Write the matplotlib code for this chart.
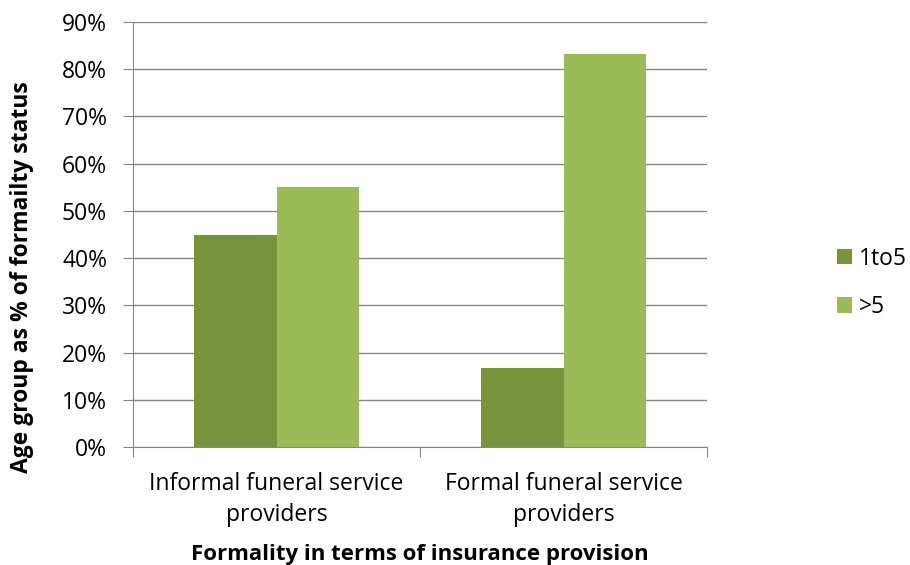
import numpy as np
import matplotlib.pyplot as plt
from matplotlib.ticker import PercentFormatter

plt.rcParams['font.family'] = ['Open Sans', 'DejaVu Sans']

categories = ['Informal funeral service\nproviders', 'Formal funeral service\nproviders']
series_names = ['1to5', '>5']
vals_1to5 = [45.0, 16.7]
vals_gt5 = [55.0, 83.3]
colors = ['#77933C', '#9BBB59']

fig = plt.figure(figsize=(9.1, 5.65), dpi=100)
ax = fig.add_axes([133/910, 1-447/565, (707-133)/910, (447-22)/565])

x = np.arange(len(categories))
w = 0.289
ax.bar(x - w/2, vals_1to5, w, color=colors[0], label=series_names[0], zorder=3)
ax.bar(x + w/2, vals_gt5, w, color=colors[1], label=series_names[1], zorder=3)

ax.set_xlim(-0.5, len(categories) - 0.5)
ax.set_ylim(0, 90)
ax.set_yticks(np.arange(0, 91, 10))
ax.yaxis.set_major_formatter(PercentFormatter(decimals=0))
ax.grid(axis='y', color='#868686', lw=1, zorder=0)

# category boundaries as ticks, labels on minor ticks
ax.set_xticks(np.arange(-0.5, len(categories), 1.0))
ax.set_xticklabels([])
ax.set_xticks(x, minor=True)
ax.set_xticklabels(categories, minor=True, fontsize=16.5, linespacing=1.4)
ax.tick_params(axis='x', which='minor', length=0, pad=18)
ax.tick_params(axis='x', which='major', length=7.2, color='#868686')
ax.tick_params(axis='y', length=7.2, color='#868686', labelsize=16.5, pad=11.5)

for s in ['top', 'right']:
    ax.spines[s].set_visible(False)
for s in ['left', 'bottom']:
    ax.spines[s].set_color('#868686')

ax.set_xlabel('Formality in terms of insurance provision', fontsize=16,
              fontweight='bold', labelpad=12)
ax.set_ylabel('Age group as % of formailty status', fontsize=16.5,
              fontweight='bold')
ax.yaxis.set_label_coords(-0.172, 0.40)

ax.legend(loc='center left', bbox_to_anchor=(837/910, 1-283/565),
          bbox_transform=fig.transFigure, frameon=False, fontsize=16.5,
          borderpad=0, borderaxespad=0,
          handlelength=0.65, handleheight=0.65, labelspacing=1.06, handletextpad=0.3)

fig.savefig('out.png', dpi=100)
